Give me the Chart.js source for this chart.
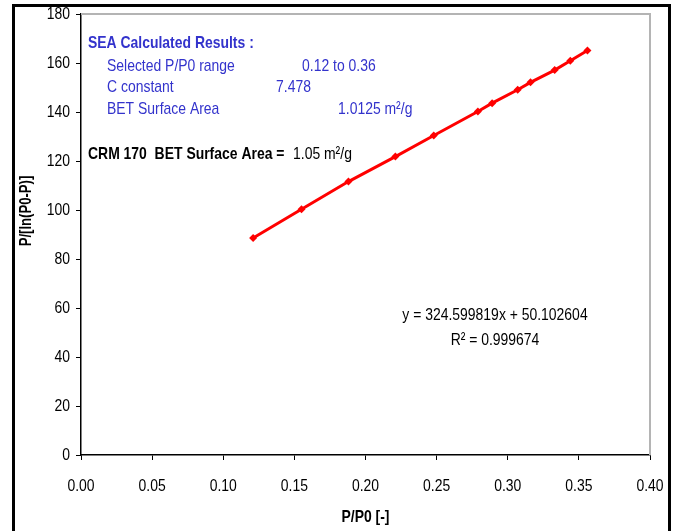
<!DOCTYPE html>
<html lang="en">
<head>
    <meta charset="UTF-8">
    <title>BET Plot</title>
    <script src="https://cdn.jsdelivr.net/npm/chart.js@4.4.1/dist/chart.umd.min.js"></script>
    <style>
        body { margin: 0; background: #fff; }
        #wrap { position: relative; width: 673px; height: 531px; overflow: hidden; }
        #frame {
            position: absolute; left: 12px; top: 4px; width: 653px; height: 560px;
            border: 3px solid #000; pointer-events: none;
        }
        canvas { position: absolute; left: 0; top: 0; }
    </style>
</head>
<body>
<div id="wrap">
    <canvas id="betChart" width="673" height="531"></canvas>
    <div id="frame"></div>
</div>
<script>
    // Data
    const relPressure = [0.121, 0.155, 0.188, 0.221, 0.248, 0.279, 0.289, 0.307, 0.316, 0.333, 0.344, 0.356];
    const betValues = [88.6, 100.3, 111.6, 121.8, 130.4, 140.2, 143.6, 149.1, 152.1, 157.1, 160.9, 165.1];
    const xTicks = [0, 0.05, 0.10, 0.15, 0.20, 0.25, 0.30, 0.35, 0.40];
    const yTicks = [0, 20, 40, 60, 80, 100, 120, 140, 160, 180];

    const FONT = "'Liberation Sans', Arial, sans-serif";
    const NARROW = 0.82; // squeeze Arial into Arial Narrow proportions
    const BLUE = '#3333CC';

    // draw squeezed text so it looks like the narrow font of the original
    function narrowText(ctx, str, x, y, font, color, align) {
        ctx.save();
        ctx.font = font;
        ctx.fillStyle = color;
        ctx.textBaseline = 'middle';
        ctx.textAlign = align || 'left';
        ctx.translate(x, y);
        ctx.scale(NARROW, 1);
        ctx.fillText(str, 0, 0);
        ctx.restore();
    }

    // Tick labels, titles, text boxes, frame of plot area
    const annotations = {
        id: 'annotations',
        afterDraw(chart) {
            const ctx = chart.ctx;
            const a = chart.chartArea;
            const xs = chart.scales.x, ys = chart.scales.y;
            ctx.save();
            // grey top/right border of plot area
            ctx.strokeStyle = '#b4b4b4';
            ctx.lineWidth = 2;
            ctx.beginPath();
            ctx.moveTo(a.left, a.top);
            ctx.lineTo(a.right, a.top);
            ctx.lineTo(a.right, a.bottom);
            ctx.stroke();
            ctx.restore();

            // tick labels
            const tickFont = '17px ' + FONT;
            ys.ticks.forEach(t => {
                narrowText(ctx, String(t.value), a.left - 11, ys.getPixelForValue(t.value), tickFont, '#000', 'right');
            });
            xs.ticks.forEach(t => {
                narrowText(ctx, t.value.toFixed(2), xs.getPixelForValue(t.value), a.bottom + 31, tickFont, '#000', 'center');
            });

            // axis titles
            narrowText(ctx, 'P/P0 [-]', (a.left + a.right) / 2, 517, 'bold 17px ' + FONT, '#000', 'center');
            ctx.save();
            ctx.translate(27, 211);
            ctx.rotate(-Math.PI / 2);
            narrowText(ctx, 'P/[ln(P0-P)]', 0, 0, 'bold 16px ' + FONT, '#000', 'center');
            ctx.restore();

            // results box
            narrowText(ctx, 'SEA Calculated Results :', 88, 43, 'bold 17px ' + FONT, BLUE);
            const reg = '17px ' + FONT;
            narrowText(ctx, 'Selected P/P0 range', 107, 66, reg, BLUE);
            narrowText(ctx, '0.12 to 0.36', 302, 66, reg, BLUE);
            narrowText(ctx, 'C constant', 107, 87, reg, BLUE);
            narrowText(ctx, '7.478', 276, 87, reg, BLUE);
            narrowText(ctx, 'BET Surface Area', 107, 109, reg, BLUE);
            narrowText(ctx, '1.0125 m\u00B2/g', 338, 109, reg, BLUE);

            narrowText(ctx, 'CRM 170  BET Surface Area =', 88, 154, 'bold 17px ' + FONT, '#000');
            narrowText(ctx, '1.05 m\u00B2/g', 293, 154, reg, '#000');

            // regression
            narrowText(ctx, 'y = 324.599819x + 50.102604', 495, 315, reg, '#000', 'center');
            narrowText(ctx, 'R\u00B2 = 0.999674', 495, 340, reg, '#000', 'center');
        }
    };

    new Chart(document.getElementById('betChart'), {
        type: 'scatter',
        data: {
            datasets: [{
                data: relPressure.map((x, i) => ({ x: x, y: betValues[i] })),
                showLine: true,
                borderColor: '#FF0000',
                backgroundColor: '#FF0000',
                borderWidth: 3,
                pointStyle: 'rectRot',
                pointRadius: 4,
                pointBorderWidth: 0
            }]
        },
        options: {
            responsive: false,
            animation: false,
            layout: { padding: { left: 0, top: 14, right: 23, bottom: 0 } },
            plugins: { legend: { display: false }, tooltip: { enabled: false } },
            scales: {
                x: {
                    type: 'linear',
                    min: 0, max: 0.4,
                    afterBuildTicks: s => { s.ticks = xTicks.map(v => ({ value: v })); },
                    afterFit: s => { s.height = 76; },
                    grid: { drawOnChartArea: false, drawTicks: true, tickLength: 5, color: '#000' },
                    border: { display: true, color: '#000', width: 1.5 },
                    ticks: { display: false }
                },
                y: {
                    type: 'linear',
                    min: 0, max: 180,
                    afterBuildTicks: s => { s.ticks = yTicks.map(v => ({ value: v })); },
                    afterFit: s => { s.width = 81; },
                    grid: { drawOnChartArea: false, drawTicks: true, tickLength: 5, color: '#000' },
                    border: { display: true, color: '#000', width: 1.5 },
                    ticks: { display: false }
                }
            }
        },
        plugins: [annotations]
    });
</script>
</body>
</html>
